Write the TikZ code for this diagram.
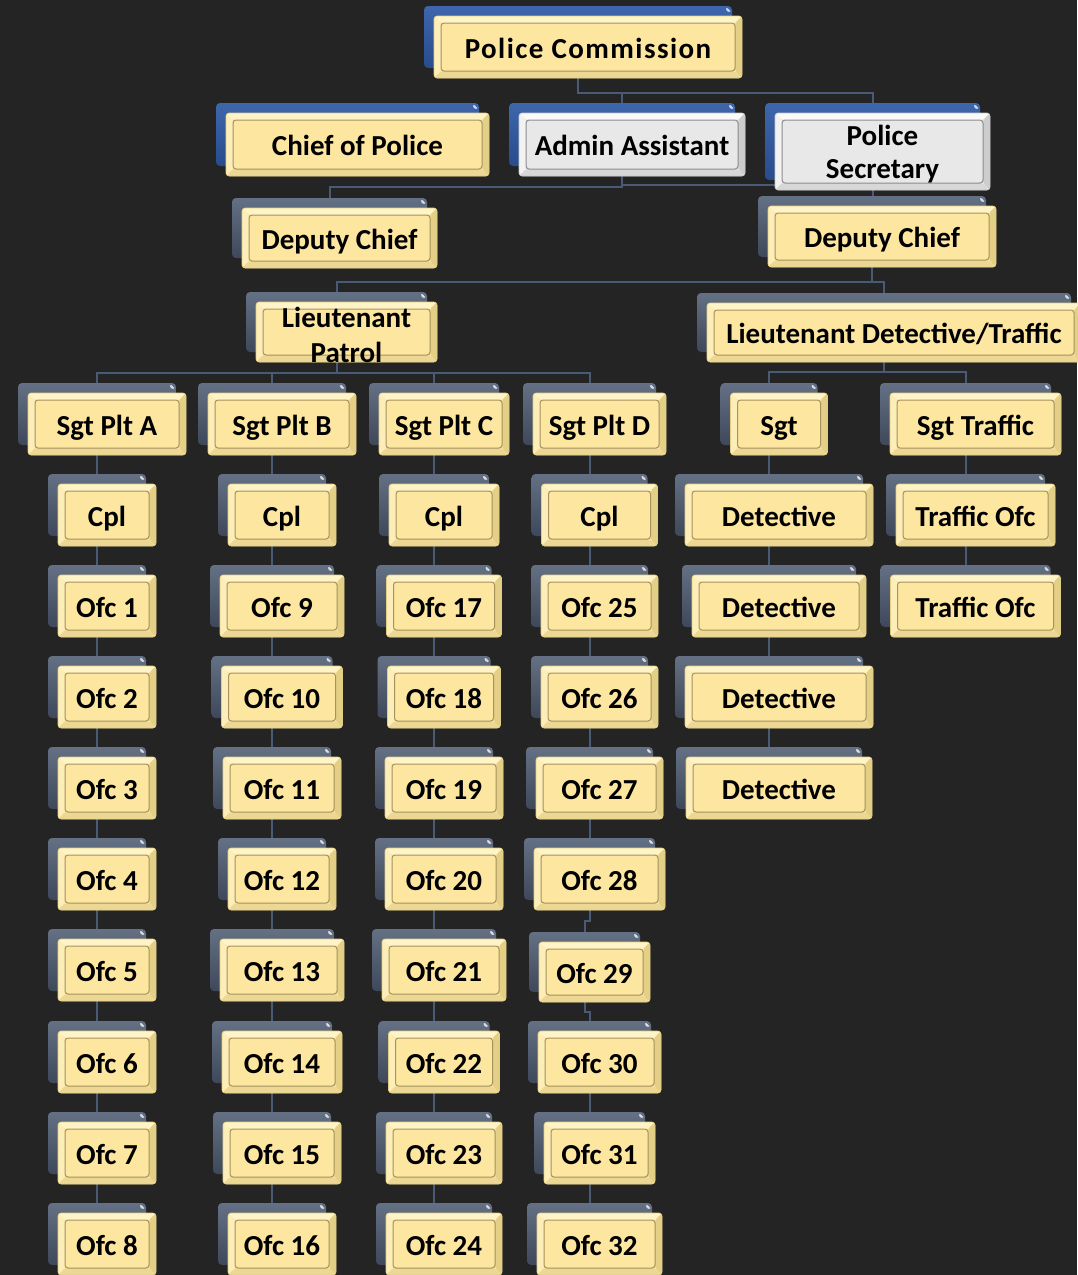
\documentclass[tikz,border=0pt]{standalone}
\usepackage{fontspec}
\setmainfont{Carlito}
\newfontfamily\pcfont{Carlito}[LetterSpace=5]
\usetikzlibrary{calc}
\definecolor{bgc}{RGB}{36,36,36}
\definecolor{yface}{RGB}{252,230,160}
\definecolor{ytop}{RGB}{255,244,200}
\definecolor{yleft}{RGB}{253,238,185}
\definecolor{yright}{RGB}{228,207,135}
\definecolor{ybot}{RGB}{236,216,148}
\definecolor{yline}{RGB}{165,146,92}
\definecolor{yrim}{RGB}{225,205,130}
\definecolor{gface}{RGB}{232,232,232}
\definecolor{gtop}{RGB}{250,250,250}
\definecolor{gleft}{RGB}{242,242,242}
\definecolor{gright}{RGB}{205,205,205}
\definecolor{gbot}{RGB}{215,215,215}
\definecolor{gline}{RGB}{140,140,140}
\definecolor{grim}{RGB}{200,200,200}
\definecolor{slatetop}{RGB}{100,112,132}
\definecolor{slatebot}{RGB}{62,72,90}
\definecolor{bluetop}{RGB}{62,102,172}
\definecolor{bluebot}{RGB}{40,76,140}
\definecolor{connc}{RGB}{72,90,118}
\pgfdeclarelayer{bgfill}
\pgfdeclarelayer{conn}
\pgfsetlayers{bgfill,conn,main}
\newcommand{\bevel}[5]{%
  \path (path picture bounding box.south west) coordinate (bSW)
        (path picture bounding box.north east) coordinate (bNE)
        (path picture bounding box.north west) coordinate (bNW)
        (path picture bounding box.south east) coordinate (bSE);
  \fill[#1] (bNW) -- (bNE) -- ([shift={(-7pt,-7pt)}]bNE) -- ([shift={(7pt,-7pt)}]bNW) -- cycle;
  \fill[#2] (bNW) -- ([shift={(7pt,-7pt)}]bNW) -- ([shift={(7pt,7pt)}]bSW) -- (bSW) -- cycle;
  \fill[#3] (bNE) -- (bSE) -- ([shift={(-7pt,7pt)}]bSE) -- ([shift={(-7pt,-7pt)}]bNE) -- cycle;
  \fill[#4] (bSW) -- ([shift={(7pt,7pt)}]bSW) -- ([shift={(-7pt,7pt)}]bSE) -- (bSE) -- cycle;
  \draw[#5, line width=1pt] ([shift={(7pt,7pt)}]bSW) rectangle ([shift={(-7pt,-7pt)}]bNE);
}
\newcommand{\glint}{%
  \fill[white, opacity=.75] ([shift={(-8pt,-2pt)}]path picture bounding box.north east) -- ([shift={(-2pt,-2pt)}]path picture bounding box.north east) -- ([shift={(-2pt,-8pt)}]path picture bounding box.north east) -- cycle;
}
\tikzset{
  yfront/.style={rounded corners=3pt, draw=yrim, line width=0.6pt, fill=yface, inner sep=0pt, outer sep=0pt,
    path picture={\bevel{ytop}{yleft}{yright}{ybot}{yline}}},
  gfront/.style={rounded corners=3pt, draw=grim, line width=0.6pt, fill=gface, inner sep=0pt, outer sep=0pt,
    path picture={\bevel{gtop}{gleft}{gright}{gbot}{gline}}},
  sback/.style={rounded corners=4pt, top color=slatetop, bottom color=slatebot, inner sep=0pt, outer sep=0pt,
    path picture={\glint}},
  bback/.style={rounded corners=4pt, top color=bluetop, bottom color=bluebot, inner sep=0pt, outer sep=0pt,
    path picture={\glint}},
  lbl/.style={font=\fontsize{29}{33}\selectfont\bfseries, text=black, inner sep=0pt, text height=28pt, text depth=6pt},
  lbltwo/.style={font=\fontsize{29}{#1}\selectfont\bfseries, text=black, inner sep=0pt, align=center},
  conn/.style={draw=connc, line width=2pt},
}
% name, cx, cy, w, h, text, front style, back style
\newcommand{\ob}[8]{%
  \node[#8, minimum width=#4pt, minimum height=#5pt] (#1-b) at (#2-10,#3-10) {};
  \node[#7, minimum width=#4pt, minimum height=#5pt] (#1) at (#2,#3) {};
  \node[lbl] (#1-t) at (#2,#3) {#6};
}
\newcommand{\oby}[5]{\ob{#1}{#2}{#3}{#4}{62}{#5}{yfront}{sback}}
\newcommand{\chainc}[2]{%
  \path ($(#1.south)!0.5!(#2-b.north)$) coordinate (jm);
  \draw[conn] (#1-b.center) -- (#1-b.center |- jm) -- (#2-b.north |- jm) -- (#2-b.north);
}
\begin{document}
\begin{tikzpicture}[x=1pt,y=-1pt]
\useasboundingbox (0,0) rectangle (1077,1275);
\begin{pgfonlayer}{bgfill}
\fill[bgc] (0,0) rectangle (1077,1275);
\end{pgfonlayer}

% top level
\node[bback, minimum width=308pt, minimum height=62pt] (pc-b) at (578,37) {};
\node[yfront, minimum width=308pt, minimum height=62pt] (pc) at (588,47) {};
\node[lbl, font=\fontsize{29}{33}\selectfont\pcfont\bfseries] (pc-t) at (588,47) {Police Commission};

\ob{chief}{357.5}{144.5}{263}{63}{Chief of Police}{yfront}{bback}
\ob{admin}{632}{144.5}{226}{63}{Admin Assistant}{gfront}{bback}

\node[bback, minimum width=215pt, minimum height=77pt] (sec-b) at (872.5,141.5) {};
\node[gfront, minimum width=215pt, minimum height=77pt] (sec) at (882.5,151.5) {};
\node[lbltwo=33pt] (sec-t) at (882.5,154) {Police\\Secretary};

\ob{dcone}{339.5}{238}{195}{60}{Deputy Chief}{yfront}{sback}
\ob{dctwo}{882}{236.5}{228}{61}{Deputy Chief}{yfront}{sback}

\node[sback, minimum width=181pt, minimum height=60pt] (ltp-b) at (336.5,322) {};
\node[yfront, minimum width=181pt, minimum height=60pt] (ltp) at (346.5,332) {};
\node[lbltwo=35pt] (ltp-t) at (346.5,335) {Lieutenant\\Patrol};

\ob{ltdt}{894}{332.5}{374}{59}{Lieutenant Detective/Traffic}{yfront}{sback}

% sergeants
\oby{sa}{107}{424}{158}{Sgt Plt A}
\oby{sb}{282}{424}{148}{Sgt Plt B}
\oby{sc}{444}{424}{130}{Sgt Plt C}
\oby{sd}{599.5}{424}{133}{Sgt Plt D}
\oby{sgt}{779}{424}{97}{Sgt}
\oby{st}{975.5}{424}{171}{Sgt Traffic}

% corporals etc
\oby{ca}{107}{515}{98}{Cpl}
\oby{cb}{282}{515}{108}{Cpl}
\oby{cc}{444}{515}{110}{Cpl}
\oby{cd}{599.5}{515}{116}{Cpl}
\oby{dea}{779}{515}{188}{Detective}
\oby{toa}{975.5}{515}{159}{Traffic Ofc}

\oby{deb}{779}{606}{174}{Detective}
\oby{dec}{779}{697}{188}{Detective}
\oby{ded}{779}{788}{186}{Detective}
\oby{tob}{975.5}{606}{170}{Traffic Ofc}

% column A
\oby{o1}{107}{606}{98}{Ofc 1}
\oby{o2}{107}{697}{98}{Ofc 2}
\oby{o3}{107}{788}{98}{Ofc 3}
\oby{o4}{107}{879}{98}{Ofc 4}
\oby{o5}{107}{970}{98}{Ofc 5}
\oby{o6}{107}{1062}{98}{Ofc 6}
\oby{o7}{107}{1153}{98}{Ofc 7}
\oby{o8}{107}{1244}{98}{Ofc 8}
% column B
\oby{o9}{282}{606}{124}{Ofc 9}
\oby{o10}{282}{697}{121}{Ofc 10}
\oby{o11}{282}{788}{118}{Ofc 11}
\oby{o12}{282}{879}{108}{Ofc 12}
\oby{o13}{282}{970}{124}{Ofc 13}
\oby{o14}{282}{1062}{120}{Ofc 14}
\oby{o15}{282}{1153}{118}{Ofc 15}
\oby{o16}{282}{1244}{108}{Ofc 16}
% column C
\oby{o17}{444}{606}{115}{Ofc 17}
\oby{o18}{444}{697}{113}{Ofc 18}
\oby{o19}{444}{788}{118}{Ofc 19}
\oby{o20}{444}{879}{118}{Ofc 20}
\oby{o21}{444}{970}{124}{Ofc 21}
\oby{o22}{444}{1062}{111}{Ofc 22}
\oby{o23}{444}{1153}{116}{Ofc 23}
\oby{o24}{444}{1244}{116}{Ofc 24}
% column D
\oby{o25}{599.5}{606}{117}{Ofc 25}
\oby{o26}{599.5}{697}{117}{Ofc 26}
\oby{o27}{599.5}{788}{127}{Ofc 27}
\oby{o28}{599.5}{879}{131}{Ofc 28}
\ob{o29}{594.5}{972}{111}{60}{Ofc 29}{yfront}{sback}
\oby{o30}{599.5}{1062}{123}{Ofc 30}
\oby{o31}{599.5}{1153}{111}{Ofc 31}
\oby{o32}{599.5}{1244}{125}{Ofc 32}

% connectors
\begin{pgfonlayer}{conn}
\coordinate (r1) at (0,93);
\coordinate (r2) at (0,187);
\coordinate (r2b) at (0,185);
\coordinate (r3) at (0,282);
\coordinate (r4) at (0,373);
\coordinate (r5) at (0,372);
\draw[conn] (pc-b.center) -- (pc-b.center |- r1) -| (admin-b.north);
\draw[conn] (pc-b.center |- r1) -| (sec-b.north);
\draw[conn] (admin-b.center) -- (admin-b.center |- r2) -| (dcone-b.north);
\draw[conn] (admin-b.center |- r2b) -- (sec-b.center |- r2b);
\draw[conn] (sec-b.center) -- (sec-b.center |- dctwo-b.north);
\draw[conn] (dctwo-b.center) -- (dctwo-b.center |- r3) -| (ltp-b.north);
\draw[conn] (dctwo-b.center |- r3) -| (ltdt-b.north);
\foreach \s in {sa,sb,sc,sd}{
  \draw[conn] (ltp-b.center) -- (ltp-b.center |- r4) -| (\s-b.north);
}
\foreach \s in {sgt,st}{
  \draw[conn] (ltdt-b.center) -- (ltdt-b.center |- r5) -| (\s-b.north);
}
\chainc{sa}{ca}\chainc{ca}{o1}\chainc{o1}{o2}\chainc{o2}{o3}\chainc{o3}{o4}\chainc{o4}{o5}\chainc{o5}{o6}\chainc{o6}{o7}\chainc{o7}{o8}
\chainc{sb}{cb}\chainc{cb}{o9}\chainc{o9}{o10}\chainc{o10}{o11}\chainc{o11}{o12}\chainc{o12}{o13}\chainc{o13}{o14}\chainc{o14}{o15}\chainc{o15}{o16}
\chainc{sc}{cc}\chainc{cc}{o17}\chainc{o17}{o18}\chainc{o18}{o19}\chainc{o19}{o20}\chainc{o20}{o21}\chainc{o21}{o22}\chainc{o22}{o23}\chainc{o23}{o24}
\chainc{sd}{cd}\chainc{cd}{o25}\chainc{o25}{o26}\chainc{o26}{o27}\chainc{o27}{o28}\chainc{o28}{o29}\chainc{o29}{o30}\chainc{o30}{o31}\chainc{o31}{o32}
\chainc{sgt}{dea}\chainc{dea}{deb}\chainc{deb}{dec}\chainc{dec}{ded}
\chainc{st}{toa}\chainc{toa}{tob}
\end{pgfonlayer}
\end{tikzpicture}
\end{document}
